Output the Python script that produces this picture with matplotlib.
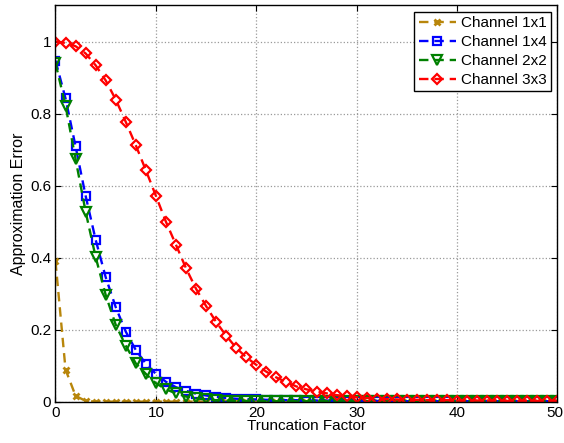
import numpy as np
import matplotlib
matplotlib.use("Agg")
import matplotlib.pyplot as plt
from matplotlib.transforms import ScaledTranslation

plt.rcParams['font.family'] = ['Liberation Sans', 'DejaVu Sans']

x = list(range(0, 51))

ch1x1 = [0.39, 0.09, 0.017, 0.003] + [0.001] * 47

ch1x4 = [0.947, 0.842, 0.709, 0.572, 0.450, 0.346, 0.263, 0.195, 0.144, 0.106,
         0.078, 0.056, 0.041, 0.031, 0.023, 0.018, 0.014, 0.011, 0.009, 0.008,
         0.007, 0.006, 0.006, 0.005, 0.005, 0.004, 0.004, 0.004, 0.003, 0.003,
         0.003, 0.003, 0.003, 0.003, 0.002, 0.002, 0.002, 0.002, 0.002, 0.002,
         0.002, 0.002, 0.002, 0.002, 0.002, 0.002, 0.002, 0.002, 0.002, 0.002,
         0.002]

ch2x2 = [0.940, 0.822, 0.674, 0.528, 0.402, 0.297, 0.214, 0.156, 0.107, 0.078,
         0.052, 0.035, 0.024, 0.015, 0.010, 0.007, 0.005, 0.004, 0.003, 0.003,
         0.002, 0.002, 0.002, 0.002, 0.002, 0.002, 0.002, 0.002, 0.002, 0.002,
         0.002, 0.002, 0.002, 0.002, 0.002, 0.002, 0.002, 0.002, 0.002, 0.002,
         0.002, 0.002, 0.002, 0.002, 0.002, 0.002, 0.002, 0.002, 0.002, 0.002,
         0.002]

ch3x3 = [1.000, 0.996, 0.987, 0.967, 0.934, 0.892, 0.839, 0.777, 0.712, 0.643,
         0.572, 0.500, 0.436, 0.371, 0.314, 0.266, 0.222, 0.184, 0.150, 0.124,
         0.103, 0.084, 0.068, 0.055, 0.043, 0.035, 0.029, 0.024, 0.019, 0.016,
         0.013, 0.011, 0.009, 0.008, 0.007, 0.006, 0.006, 0.005, 0.005, 0.005,
         0.004, 0.004, 0.004, 0.004, 0.004, 0.003, 0.003, 0.003, 0.003, 0.003,
         0.003]

labels = ['Channel 1x1', 'Channel 1x4', 'Channel 2x2', 'Channel 3x3']
xticks = [0, 10, 20, 30, 40, 50]
yticks = [0, 0.2, 0.4, 0.6, 0.8, 1.0]
yticklabels = ['0', '0.2', '0.4', '0.6', '0.8', '1']

fig = plt.figure(figsize=(5.64, 4.43), dpi=100)
ax = fig.add_axes([0.0984, 0.0926, 0.89, 0.895])

dash = (4, 2.5)
ax.plot(x, ch1x1, linestyle='--', dashes=dash, color='#B8860B', lw=1.7,
        marker='x', ms=4, mew=2.0, label=labels[0])
ax.plot(x, ch1x4, linestyle='--', dashes=dash, color='#0000FF', lw=1.7,
        marker='s', ms=5.2, mew=1.6, mfc='none', label=labels[1])
ax.plot(x, ch2x2, linestyle='--', dashes=dash, color='#008000', lw=1.7,
        marker='v', ms=6.8, mew=1.6, mfc='none', label=labels[2])
ax.plot(x, ch3x3, linestyle='--', dashes=dash, color='#FF0000', lw=1.7,
        marker='D', ms=5.5, mew=1.6, mfc='none', label=labels[3])

ax.set_xlim(0, 50)
ax.set_ylim(0, 1.1)
ax.set_xticks(xticks)
ax.set_yticks(yticks)
ax.set_yticklabels(yticklabels)
ax.tick_params(direction='in', top=True, right=True, labelsize=11, length=4, pad=3)
ax.grid(True, linestyle=':', color='#999999', lw=0.9)
for s in ax.spines.values():
    s.set_linewidth(1.0)
ax.set_xlabel('Truncation Factor', fontsize=11, labelpad=-1)
ax.set_ylabel('Approximation Error', fontsize=11.5, labelpad=3)

# nudge the last x tick label so it stays inside the figure
last = ax.get_xticklabels()[-1]
last.set_transform(last.get_transform() + ScaledTranslation(-3 / 100, 0, fig.dpi_scale_trans))

leg = ax.legend(loc='upper right', fontsize=11, frameon=True, fancybox=False,
                edgecolor='black', framealpha=1, borderpad=0.3, labelspacing=0.32,
                handlelength=2.4, handletextpad=0.35, borderaxespad=0.4)
leg.get_frame().set_linewidth(1.0)

fig.savefig('out.png', dpi=100)
